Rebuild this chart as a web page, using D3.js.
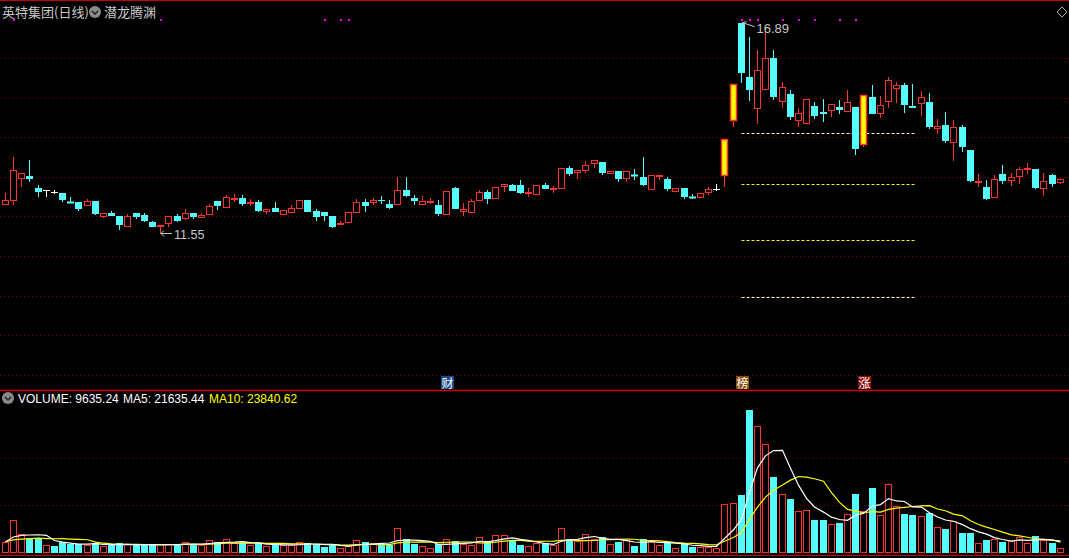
<!DOCTYPE html>
<html><head><meta charset="utf-8">
<script src="https://cdn.jsdelivr.net/npm/d3@7"></script>
<style>html,body{margin:0;padding:0;background:#000;overflow:hidden}</style>
</head><body><svg id="c" width="1069" height="558"></svg>
<script>
// ---------- data ----------
const openP=[12.29,12.39,12.93,13.02,12.71,12.66,12.61,12.58,12.36,12.35,
12.25,12.38,11.99,12.09,12.01,11.74,12.08,12.03,11.86,11.74,
11.81,12.01,11.94,12.08,11.95,12.03,12.39,12.22,12.42,12.45,
12.30,12.36,12.12,12.21,12.03,12.08,12.19,12.41,12.13,12.11,
12.01,11.79,11.84,12.09,12.36,12.34,12.41,12.31,12.29,12.67,
12.46,12.29,12.34,12.29,12.04,12.71,12.12,12.09,12.38,12.61,
12.44,12.73,12.79,12.79,12.57,12.53,12.78,12.67,12.69,13.21,
13.10,13.15,13.31,13.36,13.07,13.14,12.95,13.05,12.99,12.66,
12.99,12.93,12.61,12.71,12.50,12.45,12.60,12.69,13.03,14.41,
16.89,15.52,14.70,15.20,15.99,14.89,15.09,14.41,14.32,14.78,
14.63,14.65,14.75,14.64,14.75,13.79,15.01,14.58,14.88,15.21,
15.31,14.79,14.83,14.89,14.20,14.30,13.84,14.25,13.67,12.83,
12.74,12.45,13.07,12.88,12.98,13.18,13.19,12.70,13.04,12.85];
const closeP=[12.40,13.16,13.09,12.94,12.62,12.66,12.61,12.41,12.33,12.18,
12.38,12.07,12.09,12.02,11.79,12.00,11.99,11.88,11.74,11.78,
12.00,11.89,12.09,11.98,12.03,12.25,12.27,12.48,12.46,12.32,
12.36,12.14,12.18,12.12,12.16,12.21,12.40,12.12,11.99,12.02,
11.73,11.83,12.11,12.36,12.26,12.41,12.40,12.21,12.67,12.52,
12.39,12.38,12.39,12.07,12.63,12.18,12.18,12.39,12.61,12.44,
12.74,12.81,12.64,12.59,12.62,12.78,12.69,12.71,13.21,13.07,
13.16,13.29,13.41,13.10,13.14,12.95,13.14,13.01,12.80,13.04,
13.04,12.68,12.71,12.48,12.46,12.58,12.68,12.69,13.95,15.35,
15.63,15.19,15.69,15.99,15.02,15.26,14.51,14.60,14.95,14.54,
14.59,14.83,14.69,14.88,13.69,15.06,14.59,14.80,15.43,15.31,
14.80,14.74,15.01,14.26,14.27,13.91,14.25,13.76,12.90,12.88,
12.44,12.93,12.90,12.98,13.19,13.22,12.72,12.88,12.82,12.93];
const highP=[12.59,13.50,13.09,13.42,12.79,12.66,12.67,12.58,12.49,12.35,
12.44,12.38,12.09,12.14,12.01,12.06,12.08,12.08,11.88,11.78,
12.00,12.07,12.19,12.08,12.08,12.32,12.39,12.54,12.56,12.54,
12.43,12.41,12.18,12.36,12.16,12.28,12.40,12.41,12.18,12.11,
12.01,11.87,12.11,12.43,12.43,12.45,12.51,12.41,12.98,12.98,
12.54,12.51,12.46,12.41,12.63,12.74,12.34,12.43,12.66,12.66,
12.74,12.81,12.82,12.92,12.71,12.78,12.83,12.76,13.21,13.26,
13.16,13.39,13.41,13.36,13.14,13.14,13.14,13.19,13.50,13.04,
13.04,13.00,12.71,12.71,12.56,12.58,12.73,12.81,13.95,15.35,
16.89,16.52,16.20,16.79,16.20,15.39,15.19,14.74,14.95,14.88,
14.96,14.83,14.93,15.19,14.75,15.06,15.31,15.03,15.51,15.39,
15.36,15.34,15.16,15.11,14.46,14.63,14.43,14.30,13.67,13.07,
12.92,13.04,13.30,13.09,13.24,13.35,13.19,13.09,13.07,12.93];
const lowP=[12.28,12.29,12.75,12.87,12.50,12.50,12.56,12.36,12.33,12.14,
12.25,12.04,11.96,12.02,11.66,11.74,11.94,11.85,11.74,11.55,
11.72,11.86,11.90,11.94,11.95,12.03,12.17,12.22,12.36,12.27,
12.27,12.12,12.07,12.12,12.03,12.08,12.19,12.12,11.88,11.88,
11.71,11.79,11.84,12.09,12.12,12.29,12.31,12.18,12.29,12.50,
12.29,12.29,12.31,12.02,12.04,12.18,12.02,12.09,12.38,12.31,
12.44,12.62,12.64,12.56,12.50,12.53,12.69,12.60,12.69,13.01,
12.95,13.10,13.21,13.05,13.07,12.87,12.87,12.92,12.77,12.66,
12.92,12.65,12.61,12.43,12.43,12.45,12.53,12.65,12.75,14.26,
15.37,14.92,14.32,15.20,14.94,14.74,14.43,14.26,14.32,14.46,
14.39,14.50,14.59,14.64,13.54,13.76,14.59,14.47,14.73,14.85,
14.62,14.74,14.54,14.21,14.09,13.86,13.40,13.63,12.87,12.74,
12.41,12.45,12.82,12.77,12.82,13.08,12.70,12.52,12.75,12.82];
const volume=[22800,71000,40000,31500,31500,16200,14700,22800,19700,19700,
16200,20600,14700,16200,20600,18400,16200,16200,17500,18400,
19700,16200,22800,18400,16200,27100,22800,29200,20600,20600,
16200,20600,14700,18400,16200,16200,22800,20600,18400,12500,
18400,9600,14000,27100,23400,20600,17500,17500,53400,29300,
19000,14000,9600,18400,29300,25000,19000,16200,33700,25000,
38100,38100,27100,17500,14000,20600,20600,17500,53400,29300,
25000,40300,29300,33700,18400,23400,27100,14700,29300,26300,
16200,22800,9600,20600,12500,12500,13500,11000,106000,108000,
126000,312500,276800,237400,165800,127900,117600,90700,92900,71600,
71600,62200,65000,84000,128600,90700,141700,81900,149800,102300,
84800,82600,80400,86900,56300,51900,68800,43100,43100,20600,
27800,30000,23400,25600,34400,21200,36600,27800,21200,9635];
// volumes of the 9 sessions before the visible range (estimated from MA start)
const prevVolumes=[30000,22000,22000,23000,23000,19000,22000,27500,28700];
const gridPrices=[8,9,10,11,12,13,14,15,16];
const dashLevels=[14.10,12.82,11.40,9.96];
const dashRange=[90,111];
const limitUpIdx=[88,89,105];
const topDotIdx=[1,19,39,41,42,90,91,92,95,97,99,102,104];
const markerIdx=[54,90,105];
const markerText=["财","榜","涨"];
const highLabel="16.89", lowLabel="11.55";
const titleText="英特集团(日线)", indicatorText="潜龙腾渊";
const volText="VOLUME: 9635.24", ma5Text="MA5: 21635.44", ma10Text="MA10: 23840.62";

// ---------- setup ----------
const W=1069,H=558,N=closeP.length;
const RED="#ff3232",CYAN="#54fcfc",YEL="#ffff00";
const svg=d3.select("#c");
svg.append("rect").attr("width",W).attr("height",H).attr("fill","#000");

const x=d3.scaleBand().domain(d3.range(N)).range([0.4,0.4+N*8.19]).padding(0.2);
const left=i=>Math.round(x(i)+x.bandwidth()/2-3.5);
const cx=i=>left(i)+3.5;
const y=d3.scaleLinear().domain([8,17]).range([374.7,18.3]);
const yv=d3.scaleLinear().domain([0,312500]).range([552.7,410]);

// frame lines
svg.append("line").attr("x1",0).attr("x2",W).attr("y1",0.5).attr("y2",0.5).attr("stroke","#c00000");
svg.append("line").attr("x1",0).attr("x2",W).attr("y1",390.5).attr("y2",390.5).attr("stroke","#d00000").attr("stroke-width",1.5);
svg.append("line").attr("x1",0).attr("x2",W).attr("y1",555.5).attr("y2",555.5).attr("stroke","#c00000");

// grid
const grid=svg.append("g").attr("stroke","#7a0000").attr("stroke-dasharray","1,3");
gridPrices.forEach(p=>{const yy=Math.round(y(p))+0.5;grid.append("line").attr("x1",0).attr("x2",W).attr("y1",yy).attr("y2",yy);});
[1/3,2/3].forEach(f=>{const yy=Math.round(yv(312500*f))+0.5;grid.append("line").attr("x1",0).attr("x2",W).attr("y1",yy).attr("y2",yy);});

// dashed levels
dashLevels.forEach((p,k)=>{
  const yy=Math.round(y(p))+0.5;
  svg.append("line").attr("x1",cx(dashRange[0])).attr("x2",cx(dashRange[1])+3)
    .attr("y1",yy).attr("y2",yy)
    .attr("stroke",(k===0||k===3)?"#ffffc0":YEL).attr("stroke-dasharray","3,2");
});

// candles
const cg=svg.append("g");
function candleColor(i){
  if(closeP[i]>openP[i])return RED;
  if(closeP[i]<openP[i])return CYAN;
  return "#ffffff";
}
for(let i=0;i<N;i++){
  const col=candleColor(i), L=left(i), c=cx(i);
  const yo=y(openP[i]),yc=y(closeP[i]),yh=y(highP[i]),yl=y(lowP[i]);
  const top=Math.round(Math.min(yo,yc)),bot=Math.round(Math.max(yo,yc));
  const lu=limitUpIdx.includes(i);
  const wc=lu?RED:col;
  cg.append("line").attr("x1",c).attr("x2",c).attr("y1",Math.round(yh)).attr("y2",Math.round(yl)).attr("stroke",wc);
  if(bot-top<2){
    cg.append("line").attr("x1",L).attr("x2",L+7).attr("y1",top+0.5).attr("y2",top+0.5).attr("stroke",col).attr("stroke-width",(bot-top<1)?1:2);
  }else{
    let fill="#000";
    if(lu)fill=YEL;else if(col===CYAN)fill=CYAN;
    cg.append("rect").attr("x",L+0.5).attr("y",top+0.5).attr("width",6).attr("height",bot-top-1)
      .attr("fill",fill).attr("stroke",lu?RED:col).attr("stroke-width",lu?1.5:1);
  }
}

// high / low labels
const iMax=d3.maxIndex(highP),iMin=d3.minIndex(lowP);
const lab=svg.append("g").attr("fill","#c8c8c8").attr("font-family","Liberation Sans, Arial, sans-serif").attr("font-size",13);
{
  const hx=cx(iMax)+1,hy=y(highP[iMax]);
  svg.append("path").attr("d",`M${hx+12},${hy+4} L${hx},${hy} M${hx},${hy} l4,-1 M${hx},${hy} l2,3`).attr("stroke","#c8c8c8").attr("fill","none");
  lab.append("text").attr("x",hx+14).attr("y",hy+10).text(highLabel);
  const lx=cx(iMin)+0.5,ly=Math.round(y(lowP[iMin]))-0.5;
  svg.append("path").attr("d",`M${lx},${ly} H${lx+11} M${lx},${ly} l3,-3 M${lx},${ly} l3,3`).attr("stroke","#c8c8c8").attr("fill","none");
  lab.append("text").attr("x",lx+13).attr("y",ly+5).attr("font-size",12.5).text(lowLabel);
}

// top magenta dots
topDotIdx.forEach(i=>svg.append("rect").attr("x",Math.round(cx(i))-1).attr("y",19).attr("width",2).attr("height",2).attr("fill","#ff00ff"));

// markers
const mCol=["#1a4a8a","#8a4b0c","#8c0c0c"];
markerIdx.forEach((i,k)=>{
  const c=Math.round(cx(i));
  svg.append("rect").attr("x",c-6).attr("y",376).attr("width",13).attr("height",13).attr("fill",mCol[k]);
  svg.append("text").attr("x",c+0.5).attr("y",387.5).attr("text-anchor","middle").attr("fill","#fff")
    .attr("font-family","Noto Sans CJK SC").attr("font-size",12).text(markerText[k]);
});

// volume bars
const vg=svg.append("g");
for(let i=0;i<N;i++){
  let up=closeP[i]>openP[i]||(closeP[i]===openP[i]&&(i===0||closeP[i]>=closeP[i-1]));
  const L=left(i),t=Math.round(yv(volume[i])),b=Math.round(yv(0));
  if(up) vg.append("rect").attr("x",L+0.5).attr("y",t+0.5).attr("width",6).attr("height",b-t-1).attr("fill","#000").attr("stroke",RED);
  else vg.append("rect").attr("x",L).attr("y",t).attr("width",7).attr("height",b-t).attr("fill",CYAN);
}
// moving averages
const allV=prevVolumes.concat(volume),P=prevVolumes.length;
function ma(n){return volume.map((v,i)=>d3.mean(allV.slice(i+P-n+1,i+P+1)));}
const line=d3.line().x((d,i)=>cx(i)).y(d=>yv(d));
svg.append("path").datum(ma(10)).attr("d",line).attr("fill","none").attr("stroke",YEL).attr("stroke-width",1.2);
svg.append("path").datum(ma(5)).attr("d",line).attr("fill","none").attr("stroke","#fff").attr("stroke-width",1.2);

// header
function icon(cxp,cyp){
  svg.append("circle").attr("cx",cxp).attr("cy",cyp).attr("r",6).attr("fill","#8a8a8a");
  svg.append("path").attr("d",`M${cxp-3},${cyp-1} L${cxp},${cyp+2} L${cxp+3},${cyp-1}`).attr("stroke","#222").attr("stroke-width",1.5).attr("fill","none");
}
svg.append("text").attr("x",2).attr("y",17).attr("fill","#c8c8c8").attr("font-family","Noto Sans CJK SC").attr("font-size",13).text(titleText);
icon(95,12);
svg.append("text").attr("x",104).attr("y",17).attr("fill","#c8c8c8").attr("font-family","Noto Sans CJK SC").attr("font-size",13).text(indicatorText);
svg.append("path").attr("d","M1062,7 L1067,12 L1062,17 L1057,12 Z").attr("fill","none").attr("stroke","#aaa");

icon(8,398);
const vf="Liberation Sans, Arial, sans-serif";
svg.append("text").attr("x",18).attr("y",402.5).attr("font-family",vf).attr("font-size",12).attr("fill","#fff").text(volText);
svg.append("text").attr("x",123).attr("y",402.5).attr("font-family",vf).attr("font-size",12).attr("fill","#fff").text(ma5Text);
svg.append("text").attr("x",209).attr("y",402.5).attr("font-family",vf).attr("font-size",12).attr("fill",YEL).text(ma10Text);
</script></body></html>
